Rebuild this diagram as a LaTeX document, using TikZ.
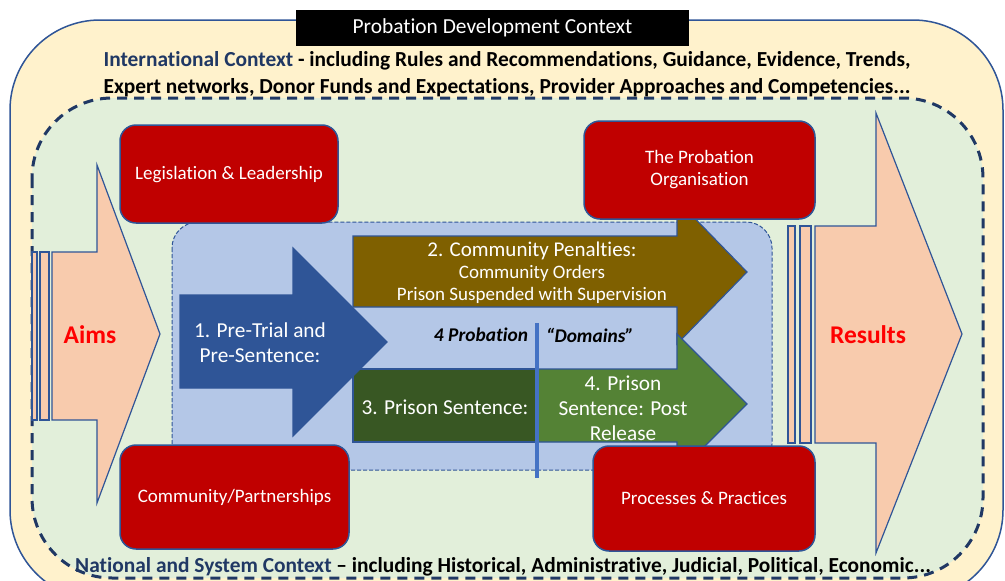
\documentclass[tikz,border=0pt]{standalone}
\usepackage{fontspec}
\setmainfont{Carlito}[Ligatures={TeX,NoCommon}]
\usepackage{tikz}
\usetikzlibrary{positioning}
\definecolor{colorCream}{HTML}{FFF2CC}
\definecolor{colorMint}{HTML}{E2EFDA}
\definecolor{colorPanel}{HTML}{B4C7E7}
\definecolor{colorEdge}{HTML}{2F5597}
\definecolor{colorNavy}{HTML}{203864}
\definecolor{colorPeach}{HTML}{F8CBAD}
\definecolor{colorBox}{HTML}{C00000}
\definecolor{colorBrown}{HTML}{7F6000}
\definecolor{colorForest}{HTML}{385723}
\definecolor{colorLeaf}{HTML}{548235}
\definecolor{colorDivide}{HTML}{4472C4}
\tikzset{
  redbox/.style={draw=colorEdge, line width=1.5pt, fill=colorBox, rounded corners=16pt,
    text=white, align=center, font=\fontsize{19}{22}\selectfont},
  blockarrow/.style={draw=colorEdge, line width=1.2pt},
  arrowtext/.style={text=white, align=center},
  ctxtext/.style={font=\bfseries\fontsize{21.4}{27}\selectfont, align=center}
}

\begin{document}
\begin{tikzpicture}[x=1pt, y=-1pt]
\useasboundingbox (0,0) rectangle (1005,581);
% the two context frames
\draw[fill=colorCream, draw=colorEdge, line width=1.5pt, rounded corners=90pt] (10,20) rectangle (1003,600);
\draw[fill=colorMint, draw=colorNavy, line width=3pt, dash pattern=on 10pt off 7pt, rounded corners=80pt] (32,98) rectangle (983,578);
\node[fill=black, text=white, minimum width=393pt, minimum height=36pt, inner sep=0pt,
  font=\fontsize{21.4}{24}\selectfont] (title) at (492.5,28) {Probation Development Context};
\node[ctxtext] (intl) at (507,74) {\textcolor{colorNavy}{International Context} - including Rules and Recommendations, Guidance, Evidence, Trends,\\
Expert networks, Donor Funds and Expectations, Provider Approaches and Competencies...};
\node[ctxtext] (natl) at (503,567) {\textcolor{colorNavy}{National and System Context} -- including Historical, Administrative, Judicial, Political, Economic...};

% aims and results
\draw[blockarrow, fill=colorPeach] (32,252) rectangle (37,420);
\draw[blockarrow, fill=colorPeach] (40,252) rectangle (49,420);
\draw[blockarrow, fill=colorPeach] (52,252) -- (97,252) -- (97,165) -- (160,334) -- (97,503) -- (97,420) -- (52,420) -- cycle;
\draw[blockarrow, fill=colorPeach] (788,226) rectangle (795,443);
\draw[blockarrow, fill=colorPeach] (800,226) rectangle (811,443);
\draw[blockarrow, fill=colorPeach] (815,226) -- (876,226) -- (876,113) -- (962,334) -- (876,553) -- (876,443) -- (815,443) -- cycle;
\node[text=red, font=\bfseries\fontsize{25.5}{30}\selectfont] (aims) at (90,335) {Aims};
\node[text=red, font=\bfseries\fontsize{25.5}{30}\selectfont] (results) at (868,335) {Results};

% probation domains
\draw[fill=colorPanel, draw=colorEdge, line width=1pt, dash pattern=on 4pt off 2pt, rounded corners=26pt] (172,222) rectangle (772,470);
\draw[blockarrow, fill=colorBrown] (353,236) -- (677,236) -- (677,200) -- (747,272) -- (677,344) -- (677,307) -- (353,307) -- cycle;
\draw[blockarrow, fill=colorForest] (353,369) rectangle (537,442);
\draw[blockarrow, fill=colorLeaf] (537,369) -- (677,369) -- (677,334) -- (747,404) -- (677,474) -- (677,442) -- (537,442) -- cycle;
\draw[blockarrow, fill=colorEdge] (180,295) -- (293,295) -- (293,248) -- (387,342) -- (293,436) -- (293,388) -- (180,388) -- cycle;
\node[arrowtext, font=\fontsize{21.3}{25}\selectfont] (pretrial) at (260,343) {1. Pre-Trial and\\Pre-Sentence:};
\node[arrowtext, font=\fontsize{19}{22}\selectfont] (community) at (532,273)
  {{\fontsize{21}{24}\selectfont 2. Community Penalties:}\\Community Orders\\Prison Suspended with Supervision};
\node[arrowtext, font=\fontsize{21.3}{25}\selectfont] (prison) at (445,407) {3. Prison Sentence:};
\node[arrowtext, font=\fontsize{21.3}{25}\selectfont] (release) at (623,408) {4. Prison\\Sentence: Post\\Release};
\coordinate (divtop) at (537,323);
\coordinate (divbot) at (537,478);
\draw[colorDivide, line width=4pt] (divtop) -- (divbot);
\node[font=\bfseries\itshape\fontsize{19.4}{22}\selectfont] (four) at (481,335) {4 Probation};
\node[font=\bfseries\itshape\fontsize{19.4}{22}\selectfont] (domains) at (590,335) {“Domains”};

% the four supporting pillars
\node[redbox, minimum width=218pt, minimum height=98pt, text depth=3pt] (leg) at (229,174) {Legislation \& Leadership};
\node[redbox, minimum width=231pt, minimum height=98pt] (org) at (699.5,170) {The Probation\\Organisation};
\node[redbox, minimum width=229pt, minimum height=104pt] (comm) at (234.5,497) {Community/Partnerships};
\node[redbox, minimum width=222pt, minimum height=105pt] (proc) at (704,498.5) {Processes \& Practices};
\end{tikzpicture}
\end{document}
